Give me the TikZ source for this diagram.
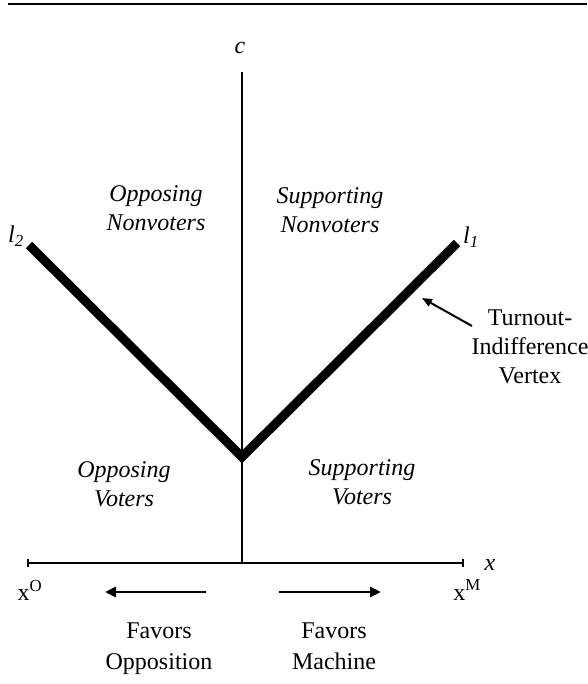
\documentclass[tikz,border=0pt]{standalone}
\usepackage{fontspec}
\setmainfont{Liberation Serif}
\usetikzlibrary{arrows.meta}
\begin{document}
\begin{tikzpicture}[x=1pt,y=-1pt,
  lbl/.style={font=\fontsize{24}{29}\selectfont, align=center, inner sep=0pt},
  ilbl/.style={lbl, font=\fontsize{24}{29}\selectfont\itshape},
  axisline/.style={line width=1.5pt},
  vline/.style={line width=9pt, line join=miter},
  dirarrow/.style={line width=2.8pt, -{Triangle[length=11pt,width=10pt]}},
]
\useasboundingbox (0,0) rectangle (587,684);
% top rule
\coordinate (r1) at (8,4);
\coordinate (r2) at (587,4);
\draw[line width=2pt] (r1) -- (r2);
% axes
\coordinate (ctop) at (242,72);
\coordinate (orig) at (242,563);
\coordinate (xl) at (28,563);
\coordinate (xr) at (463,563);
\draw[axisline] (ctop) -- (orig);
\draw[axisline] (xl) -- (xr);
\draw[axisline] (xl) ++(0,-4) -- ++(0,8);
\draw[axisline] (xr) ++(0,-4) -- ++(0,8);
% V
\coordinate (l2end) at (29,245);
\coordinate (vtx) at (242,457);
\coordinate (l1end) at (457,243);
\draw[vline] (l2end) -- (vtx) -- (l1end);
% labels
\node[ilbl] (c) at (240,48) {c};
\node[ilbl] (x) at (490,565) {x};
\node[ilbl] (l2) at (16,236) {l\textsubscript{2}};
\node[ilbl] (l1) at (471,237) {l\textsubscript{1}};
\node[lbl] (xo) at (30,590) {x\textsuperscript{O}};
\node[lbl] (xm) at (467,590) {x\textsuperscript{M}};
\node[ilbl] (on) at (156,208) {Opposing\\Nonvoters};
\node[ilbl] (sn) at (330,210) {Supporting\\Nonvoters};
\node[ilbl] (ov) at (124,484) {Opposing\\Voters};
\node[ilbl] (sv) at (362,482) {Supporting\\Voters};
\node[lbl] (tiv) at (530,347) {Turnout-\\Indifference\\Vertex};
\node[lbl, anchor=north, font=\fontsize{24}{31}\selectfont] (fo) at (159,623) {Favors\\Opposition};
\node[lbl, anchor=north, font=\fontsize{24}{31}\selectfont] (fm) at (334,623) {Favors\\Machine};
% annotation arrow
\coordinate (annS) at (472,326);
\coordinate (annE) at (422,298);
\draw[line width=2pt, -{Triangle[length=10pt,width=8pt]}] (annS) -- (annE);
% direction arrows
\coordinate (a1s) at (206,592);
\coordinate (a1e) at (105,592);
\coordinate (a2s) at (279,592);
\coordinate (a2e) at (381,592);
\draw[dirarrow] (a1s) -- (a1e);
\draw[dirarrow] (a2s) -- (a2e);
\end{tikzpicture}
\end{document}
